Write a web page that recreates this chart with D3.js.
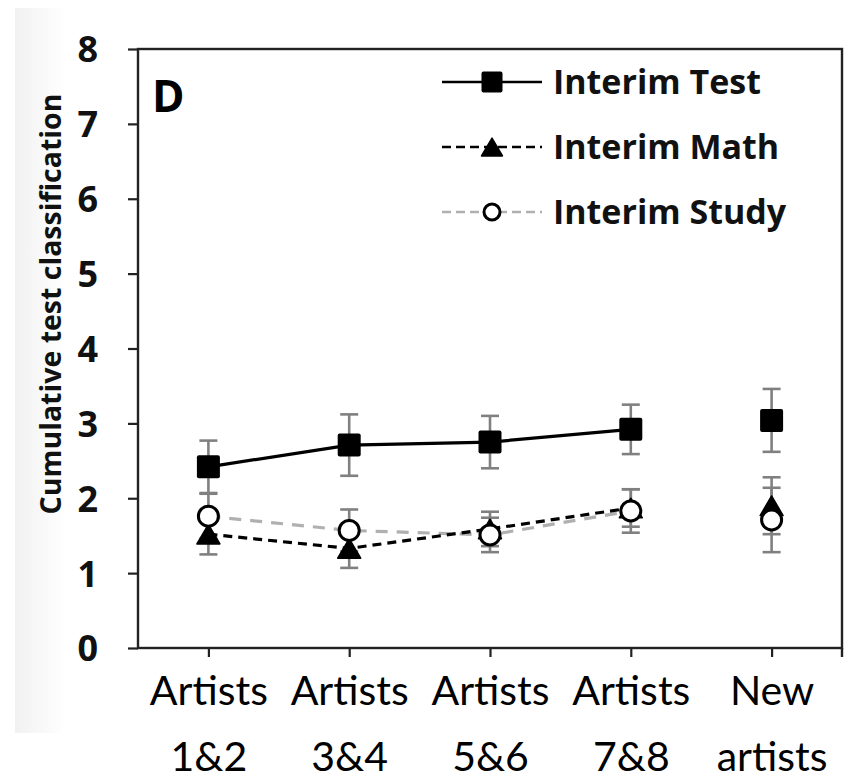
<!DOCTYPE html>
<html>
<head>
<meta charset="utf-8">
<script src="https://cdn.jsdelivr.net/npm/d3@7"></script>
<style>
  html, body { margin: 0; padding: 0; background: #fff; }
  svg { display: block; }
</style>
</head>
<body>
<svg id="chart" width="848" height="779"></svg>
<script>
// Session groups along the x axis (two-line labels)
const categories = ["Artists|1&2", "Artists|3&4", "Artists|5&6", "Artists|7&8", "New|artists"];
// Sessions joined by the series line (the new-artists transfer point stands alone)
const joined = [true, true, true, true, false];

// Mean cumulative test classification and standard error per condition
const testMean  = [2.42, 2.71, 2.75, 2.92, 3.04];
const testErr   = [0.35, 0.41, 0.35, 0.33, 0.42];
const mathMean  = [1.52, 1.33, 1.59, 1.87, 1.90];
const mathErr   = [0.27, 0.26, 0.23, 0.25, 0.38];
const studyMean = [1.76, 1.57, 1.51, 1.83, 1.71];
const studyErr  = [0.30, 0.28, 0.23, 0.29, 0.43];

const yTicks = [0, 1, 2, 3, 4, 5, 6, 7, 8];
const seriesNames = ["Interim Test", "Interim Math", "Interim Study"];

const svg = d3.select("#chart");
const plotLeft = 138, plotRight = 842, plotTop = 49, plotBottom = 648;

const x = d3.scalePoint().domain(categories).range([plotLeft, plotRight]).padding(0.5);
const y = d3.scaleLinear().domain([0, 8]).range([plotBottom, plotTop]);

// faint scan shading along the left edge
const defs = svg.append("defs");
const grad = defs.append("linearGradient").attr("id", "edgeShade").attr("x1", 0).attr("x2", 1);
grad.append("stop").attr("offset", 0).attr("stop-color", "#f1f1f1");
grad.append("stop").attr("offset", 1).attr("stop-color", "#ffffff");
svg.append("rect").attr("x", 15).attr("y", 8).attr("width", 50).attr("height", 725)
  .attr("fill", "url(#edgeShade)");

const series = [
  { name: seriesNames[0], mean: testMean,  err: testErr,  marker: "square",
    stroke: "#000", dash: null },
  { name: seriesNames[1], mean: mathMean,  err: mathErr,  marker: "triangle",
    stroke: "#000", dash: "9,6" },
  { name: seriesNames[2], mean: studyMean, err: studyErr, marker: "circle",
    stroke: "#b0b0b0", dash: "12,9" }
];

// Y axis
const yAxis = d3.axisLeft(y).tickValues(yTicks).tickSize(10).tickPadding(30);
const gy = svg.append("g").attr("transform", `translate(${plotLeft},0)`).call(yAxis);
gy.select(".domain").remove();
gy.selectAll(".tick line").attr("stroke", "#222").attr("stroke-width", 2.2);
gy.selectAll(".tick text")
  .attr("font-family", "'Open Sans', sans-serif").attr("font-weight", 700)
  .attr("font-size", 36).attr("fill", "#111").attr("dy", "0.36em");

// X axis
const xAxis = d3.axisBottom(x).tickSize(9).tickFormat("");
const gx = svg.append("g").attr("transform", `translate(0,${plotBottom})`).call(xAxis);
gx.select(".domain").remove();
gx.selectAll(".tick line").attr("stroke", "#222").attr("stroke-width", 2.2);
gx.selectAll(".tick").each(function(d) {
  const parts = d.split("|");
  const t = d3.select(this).append("text")
    .attr("text-anchor", "middle")
    .attr("font-family", "Lato, sans-serif").attr("font-size", 41).attr("fill", "#000");
  t.append("tspan").attr("x", 0).attr("y", 57).text(parts[0]);
  t.append("tspan").attr("x", 0).attr("y", 123).text(parts[1]);
});

// Plot frame
svg.append("rect").attr("x", plotLeft).attr("y", plotTop)
  .attr("width", plotRight - plotLeft).attr("height", plotBottom - plotTop)
  .attr("fill", "none").attr("stroke", "#222").attr("stroke-width", 2.4);
svg.append("line").attr("x1", plotRight).attr("x2", plotRight)
  .attr("y1", plotBottom).attr("y2", plotBottom + 9)
  .attr("stroke", "#222").attr("stroke-width", 2.4);

// Y axis title
svg.append("text")
  .attr("transform", `translate(61,304) rotate(-90)`)
  .attr("text-anchor", "middle")
  .attr("font-family", "'Open Sans', sans-serif").attr("font-weight", 700)
  .attr("font-size", 28.5).attr("fill", "#111")
  .text("Cumulative test classification");

// Panel letter
svg.append("text").attr("x", 152).attr("y", 112)
  .attr("font-family", "'Open Sans', sans-serif").attr("font-weight", 700)
  .attr("font-size", 44).attr("fill", "#000").text("D");

// Series lines (study drawn first so the math dashes sit on top)
const line = d3.line()
  .defined((d, i) => joined[i])
  .x((d, i) => x(categories[i]))
  .y(d => y(d));
[series[2], series[0], series[1]].forEach(s => {
  svg.append("path").datum(s.mean)
    .attr("d", line)
    .attr("fill", "none").attr("stroke", s.stroke).attr("stroke-width", 3.2)
    .attr("stroke-dasharray", s.dash);
});

// Error bars
const cap = 9;
series.forEach(s => {
  const g = svg.append("g").attr("stroke", "#808080").attr("stroke-width", 2.6);
  s.mean.forEach((m, i) => {
    const cx = x(categories[i]);
    const y1 = y(m + s.err[i]), y0 = y(m - s.err[i]);
    g.append("line").attr("x1", cx).attr("x2", cx).attr("y1", y1).attr("y2", y0);
    g.append("line").attr("x1", cx - cap).attr("x2", cx + cap).attr("y1", y1).attr("y2", y1);
    g.append("line").attr("x1", cx - cap).attr("x2", cx + cap).attr("y1", y0).attr("y2", y0);
  });
});

// Marker drawing
function drawMarker(g, type, cx, cy, size) {
  if (type === "square") {
    g.append("rect").attr("x", cx - size / 2).attr("y", cy - size / 2)
      .attr("width", size).attr("height", size).attr("rx", 2)
      .attr("fill", "#000");
  } else if (type === "triangle") {
    const w = size, h = size * 0.85;
    g.append("path")
      .attr("d", `M${cx},${cy - h / 2}L${cx + w / 2},${cy + h / 2}L${cx - w / 2},${cy + h / 2}Z`)
      .attr("fill", "#000").attr("stroke", "#000").attr("stroke-width", 1.5)
      .attr("stroke-linejoin", "round");
  } else {
    g.append("circle").attr("cx", cx).attr("cy", cy).attr("r", size / 2 - 1.5)
      .attr("fill", "#fff").attr("stroke", "#000").attr("stroke-width", 3);
  }
}

series.forEach(s => {
  const g = svg.append("g");
  s.mean.forEach((m, i) => drawMarker(g, s.marker, x(categories[i]), y(m), 23));
});

// Legend
const legend = svg.append("g");
series.forEach((s, i) => {
  const ly = 82 + i * 65;
  legend.append("line").attr("x1", 442).attr("x2", 542).attr("y1", ly).attr("y2", ly)
    .attr("stroke", s.stroke).attr("stroke-width", 2.6)
    .attr("stroke-dasharray", s.dash ? "9,5" : null);
  drawMarker(legend, s.marker, 492, ly, s.marker === "circle" ? 19 : 21);
  legend.append("text").attr("x", 553).attr("y", ly + 12)
    .attr("font-family", "'Open Sans', sans-serif").attr("font-weight", 700)
    .attr("font-size", 34).attr("fill", "#111").text(s.name);
});
</script>
</body>
</html>
